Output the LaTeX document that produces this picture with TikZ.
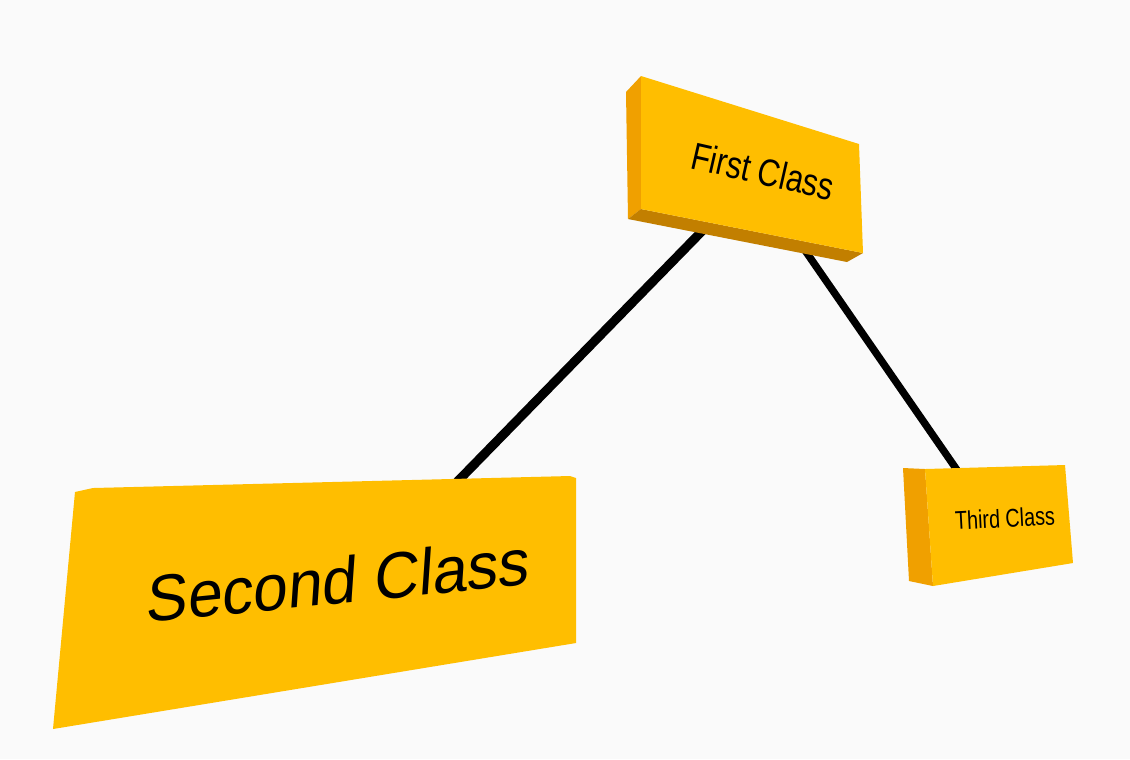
\documentclass[tikz,border=0pt]{standalone}
\usepackage{fontspec}
\setmainfont{Liberation Sans}
\usepackage{tikz}
\usetikzlibrary{calc}
\definecolor{bg}{HTML}{FAFAFA}
\definecolor{boxfront}{HTML}{FFBE00}
\definecolor{boxside}{HTML}{F0A000}
\definecolor{boxbottom}{HTML}{C27F00}
\tikzstyle{front} = [fill=boxfront]
\tikzstyle{side} = [fill=boxside]
\tikzstyle{under} = [fill=boxbottom]
\tikzstyle{rod} = [black, line cap=butt]
\tikzstyle{label} = [inner sep=0pt, text=black]

\begin{document}
\begin{tikzpicture}[x=0.01cm,y=-0.01cm]
\useasboundingbox (0,0) rectangle (1130,759);
\fill[bg] (0,0) rectangle (1130,759);

% end points of the rods
\coordinate (first-l) at (707,226);
\coordinate (first-r) at (802,246);
\coordinate (second-t) at (455,484);
\coordinate (third-t) at (957,470);

    \draw[rod, line width=2.6pt] (first-l) -- (second-t);
    \draw[rod, line width=2.1pt] (first-r) -- (third-t);

% first box
\fill[side] (626,92) -- (641,76) -- (641,209) -- (628,219) -- cycle;
\fill[under] (628,219) -- (641,209) -- (863,253) -- (847,262) -- cycle;
\fill[front] (641,76) -- (859,144) -- (863,253) -- (641,209) -- cycle;
\node[label, anchor=base west, rotate=-12.9, xscale=0.8] (first) at (689,168)
    {\fontsize{10.9}{12}\selectfont First Class};

% second box
\fill[front] (75,492) -- (93,488) -- (570,476) -- (576,478) -- (576,643) -- (53,729) -- cycle;
\node[label, anchor=base west, rotate=5.7, xslant=0.17, xscale=0.96] (second) at (145,623)
    {\fontsize{18.5}{21}\selectfont Second Class};

% third box
\fill[side] (903,468) -- (925,469) -- (933,586) -- (909,581) -- cycle;
\fill[front] (925,469) -- (1065,465) -- (1073,563) -- (933,586) -- cycle;
\node[label, anchor=base west, rotate=3, xscale=0.77] (third) at (955,530)
    {\fontsize{7.3}{9}\selectfont Third Class};
\end{tikzpicture}
\end{document}
